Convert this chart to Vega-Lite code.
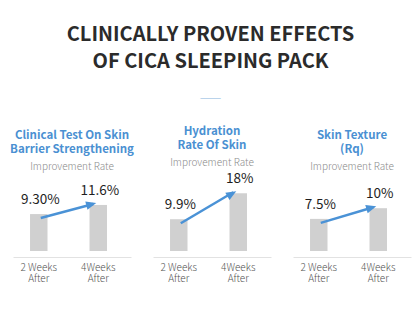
{
  "$schema": "https://vega.github.io/schema/vega-lite/v6.json",
  "background": "white",
  "padding": {"left": 10, "top": 24, "right": 4, "bottom": 4},
  "bounds": "flush",
  "spacing": 22,
  "title": {
    "text": ["CLINICALLY PROVEN EFFECTS", "OF CICA SLEEPING PACK"],
    "subtitle": "——",
    "anchor": "middle",
    "font": "Noto Sans CJK KR",
    "fontSize": 20,
    "fontWeight": "bold",
    "color": "#2b2b2b",
    "lineHeight": 27,
    "subtitleFont": "Noto Sans CJK KR",
    "subtitleFontSize": 13,
    "subtitleColor": "#86b6de",
    "subtitlePadding": 20,
    "offset": 21
  },
  "data": {
    "values": [
      {"panel": "Clinical Test On Skin Barrier Strengthening", "period": "2 Weeks|After", "value": 9.3, "label": "9.30%"},
      {"panel": "Clinical Test On Skin Barrier Strengthening", "period": "4Weeks|After", "value": 11.6, "label": "11.6%"},
      {"panel": "Hydration Rate Of Skin", "period": "2 Weeks|After", "value": 9.9, "label": "9.9%"},
      {"panel": "Hydration Rate Of Skin", "period": "4Weeks|After", "value": 18, "label": "18%"},
      {"panel": "Skin Texture (Rq)", "period": "2 Weeks|After", "value": 7.5, "label": "7.5%"},
      {"panel": "Skin Texture (Rq)", "period": "4Weeks|After", "value": 10, "label": "10%"}
    ]
  },
  "hconcat": [
    {
      "title": {"text": ["Clinical Test On Skin", "Barrier Strengthening"], "subtitle": "Improvement Rate"},
      "width": 118,
      "height": 81,
      "transform": [{"filter": "datum.panel == 'Clinical Test On Skin Barrier Strengthening'"}],
      "encoding": {
        "x": {"field": "period", "type": "nominal", "sort": null, "title": null,
              "scale": {"paddingInner": 0.706, "paddingOuter": 0.345, "align": 0.415}}
      },
      "layer": [
        {"mark": {"type": "bar", "color": "#d0d0d0"},
         "encoding": {"y": {"field": "value", "type": "quantitative", "title": null, "scale": {"domain": [-1.51, 18.89], "nice": false}},
                      "y2": {"datum": 0}}},
        {"mark": {"type": "text", "dy": -14, "dx": 1.5, "fontSize": 13.5, "font": "Noto Sans CJK KR", "color": "#1e1e1e", "baseline": "middle"},
         "encoding": {"y": {"field": "value", "type": "quantitative", "axis": null, "scale": {"domain": [-1.51, 18.89], "nice": false}},
                      "text": {"field": "label"}}},
        {"transform": [{"pivot": "period", "value": "value", "groupby": ["panel"]}],
         "mark": {"type": "rule", "color": "#4a92d6", "strokeWidth": 2.5, "xOffset": 2, "yOffset": 4, "x2Offset": -5, "y2Offset": -1},
         "encoding": {"x": {"datum": "2 Weeks|After"}, "x2": {"datum": "4Weeks|After"},
                      "y": {"field": "2 Weeks|After", "type": "quantitative", "axis": null, "scale": {"domain": [-1.51, 18.89], "nice": false}},
                      "y2": {"field": "4Weeks|After"}}},
        {"transform": [{"filter": "datum.period == '4Weeks|After'"}],
         "mark": {"type": "point", "shape": "M0,0L-3.4,-1.4L-3.4,1.4Z", "size": 36, "filled": true, "opacity": 1, "color": "#4a92d6", "angle": -15.2, "xOffset": -2, "yOffset": -2},
         "encoding": {"y": {"field": "value", "type": "quantitative", "axis": null, "scale": {"domain": [-1.51, 18.89], "nice": false}}}}
      ]
    },
    {
      "title": {"text": ["Hydration", "Rate Of Skin"], "subtitle": "Improvement Rate"},
      "width": 118,
      "height": 81,
      "transform": [{"filter": "datum.panel == 'Hydration Rate Of Skin'"}],
      "encoding": {
        "x": {"field": "period", "type": "nominal", "sort": null, "title": null,
              "scale": {"paddingInner": 0.706, "paddingOuter": 0.345, "align": 0.415}}
      },
      "layer": [
        {"mark": {"type": "bar", "color": "#d0d0d0"},
         "encoding": {"y": {"field": "value", "type": "quantitative", "title": null, "scale": {"domain": [-1.87, 23.36], "nice": false}},
                      "y2": {"datum": 0}}},
        {"mark": {"type": "text", "dy": -14, "dx": 1.5, "fontSize": 13.5, "font": "Noto Sans CJK KR", "color": "#1e1e1e", "baseline": "middle"},
         "encoding": {"y": {"field": "value", "type": "quantitative", "axis": null, "scale": {"domain": [-1.87, 23.36], "nice": false}},
                      "text": {"field": "label"}}},
        {"transform": [{"pivot": "period", "value": "value", "groupby": ["panel"]}],
         "mark": {"type": "rule", "color": "#4a92d6", "strokeWidth": 2.5, "xOffset": 2, "yOffset": 4, "x2Offset": -5, "y2Offset": -1},
         "encoding": {"x": {"datum": "2 Weeks|After"}, "x2": {"datum": "4Weeks|After"},
                      "y": {"field": "2 Weeks|After", "type": "quantitative", "axis": null, "scale": {"domain": [-1.87, 23.36], "nice": false}},
                      "y2": {"field": "4Weeks|After"}}},
        {"transform": [{"filter": "datum.period == '4Weeks|After'"}],
         "mark": {"type": "point", "shape": "M0,0L-3.4,-1.4L-3.4,1.4Z", "size": 36, "filled": true, "opacity": 1, "color": "#4a92d6", "angle": -30, "xOffset": -2, "yOffset": -2},
         "encoding": {"y": {"field": "value", "type": "quantitative", "axis": null, "scale": {"domain": [-1.87, 23.36], "nice": false}}}}
      ]
    },
    {
      "title": {"text": ["Skin Texture", "(Rq)"], "subtitle": "Improvement Rate"},
      "width": 118,
      "height": 81,
      "transform": [{"filter": "datum.panel == 'Skin Texture (Rq)'"}],
      "encoding": {
        "x": {"field": "period", "type": "nominal", "sort": null, "title": null,
              "scale": {"paddingInner": 0.706, "paddingOuter": 0.345, "align": 0.415}}
      },
      "layer": [
        {"mark": {"type": "bar", "color": "#d0d0d0"},
         "encoding": {"y": {"field": "value", "type": "quantitative", "title": null, "scale": {"domain": [-1.4, 17.52], "nice": false}},
                      "y2": {"datum": 0}}},
        {"mark": {"type": "text", "dy": -14, "dx": 1.5, "fontSize": 13.5, "font": "Noto Sans CJK KR", "color": "#1e1e1e", "baseline": "middle"},
         "encoding": {"y": {"field": "value", "type": "quantitative", "axis": null, "scale": {"domain": [-1.4, 17.52], "nice": false}},
                      "text": {"field": "label"}}},
        {"transform": [{"pivot": "period", "value": "value", "groupby": ["panel"]}],
         "mark": {"type": "rule", "color": "#4a92d6", "strokeWidth": 2.5, "xOffset": 2, "yOffset": 4, "x2Offset": -5, "y2Offset": -1},
         "encoding": {"x": {"datum": "2 Weeks|After"}, "x2": {"datum": "4Weeks|After"},
                      "y": {"field": "2 Weeks|After", "type": "quantitative", "axis": null, "scale": {"domain": [-1.4, 17.52], "nice": false}},
                      "y2": {"field": "4Weeks|After"}}},
        {"transform": [{"filter": "datum.period == '4Weeks|After'"}],
         "mark": {"type": "point", "shape": "M0,0L-3.4,-1.4L-3.4,1.4Z", "size": 36, "filled": true, "opacity": 1, "color": "#4a92d6", "angle": -16.7, "xOffset": -2, "yOffset": -2},
         "encoding": {"y": {"field": "value", "type": "quantitative", "axis": null, "scale": {"domain": [-1.4, 17.52], "nice": false}}}}
      ]
    }
  ],
  "config": {
    "view": {"stroke": null},
    "title": {
      "font": "Noto Sans CJK KR",
      "fontSize": 11.5,
      "fontWeight": "bold",
      "color": "#4a90d2",
      "lineHeight": 14,
      "anchor": "middle",
      "subtitleFont": "Noto Sans CJK KR",
      "subtitleFontSize": 10,
      "subtitleFontWeight": 300,
      "subtitleColor": "#8c8c8c",
      "subtitlePadding": 7,
      "offset": 0
    },
    "axisX": {
      "domainColor": "#e2e2e2",
      "ticks": false,
      "grid": false,
      "labelAngle": 0,
      "labelFont": "Noto Sans CJK KR",
      "labelFontSize": 10,
      "labelFontWeight": 300,
      "labelColor": "#555555",
      "labelPadding": 5,
      "labelLineHeight": 11.5,
      "labelExpr": "split(datum.label, '|')"
    },
    "axisY": {
      "domainColor": "#e2e2e2",
      "ticks": false,
      "labels": false,
      "grid": false
    }
  }
}
